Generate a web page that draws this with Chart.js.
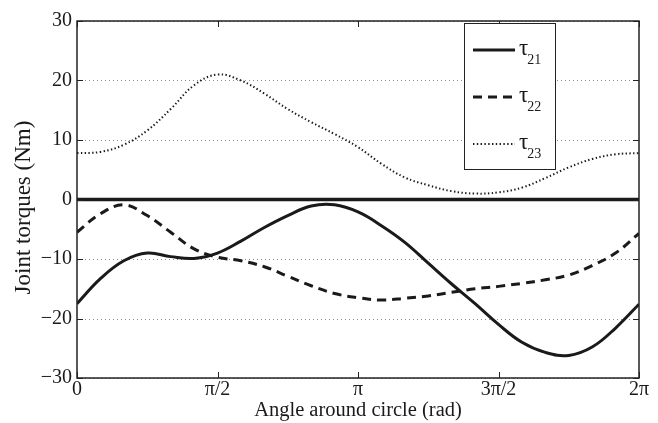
<!DOCTYPE html>
<html>
<head>
<meta charset="utf-8">
<script src="https://cdn.jsdelivr.net/npm/chart.js@4"></script>
<style>
  html, body { margin: 0; padding: 0; background: #fff; }
  #wrap { width: 658px; height: 423px; }
</style>
</head>
<body>
<div id="wrap"><canvas id="c" width="658" height="423"></canvas></div>
<script>
// Sample angles around the circle (degrees), converted to radians for the x axis
const angleDeg = [0, 15, 30, 45, 60, 75, 90, 105, 120, 135, 150, 165, 180,
                  195, 210, 225, 240, 255, 270, 285, 300, 315, 330, 345, 360];

// Joint torques (Nm)
const tau21 = [-17.5, -13.3, -10.3, -9.0, -9.6, -9.9, -9.0, -7.0, -4.7, -2.7, -1.1, -0.9, -2.1,
               -4.4, -7.2, -10.7, -14.2, -17.5, -21.0, -24.0, -25.7, -26.2, -24.8, -21.6, -17.6];
const tau22 = [-5.5, -2.4, -0.9, -2.7, -5.5, -8.3, -9.7, -10.3, -11.3, -12.9, -14.5, -15.8, -16.5,
               -16.9, -16.6, -16.2, -15.6, -15.0, -14.6, -14.1, -13.5, -12.7, -11.1, -9.0, -5.7];
const tau23 = [7.8, 8.0, 9.2, 11.6, 15.2, 19.2, 21.0, 20.0, 17.8, 15.2, 13.0, 11.0, 8.8,
               6.0, 3.7, 2.4, 1.4, 1.0, 1.2, 2.0, 3.6, 5.4, 6.8, 7.6, 7.8];

// Reference torque held at zero over the full circle
const zeroDeg = [0, 360];
const zeroTau = [0, 0];

// Axis ticks
const xTickDeg = [0, 90, 180, 270, 360];
const xTickLabels = ['0', 'π/2', 'π', '3π/2', '2π'];
const yTickValues = [-30, -20, -10, 0, 10, 20, 30];

// Legend entries: base symbol and subscript
const legendNames = ['τ', 'τ', 'τ'];
const legendSubs = ['21', '22', '23'];

const yTitle = 'Joint torques (Nm)';
const xTitle = 'Angle around circle (rad)';

const toRad = d => d * Math.PI / 180;
const pts = (xs, ys) => xs.map((d, i) => ({ x: toRad(d), y: ys[i] }));

const SERIF = "'Liberation Serif', 'Times New Roman', serif";
const INK = '#1a1a1a';

const styles = [
  { borderWidth: 3, borderDash: [] },
  { borderWidth: 3, borderDash: [9, 6] },
  { borderWidth: 2, borderDash: [1.4, 2.4] }
];

// Dotted grid, box frame, inward ticks, y title and the boxed legend
const framePlugin = {
  id: 'frame',
  beforeDatasetsDraw(chart) {
    const { ctx, chartArea: a, scales } = chart;
    ctx.save();
    ctx.strokeStyle = '#8a8a8a';
    ctx.lineWidth = 1;
    ctx.setLineDash([1, 3]);
    yTickValues.forEach(v => {
      const y = Math.round(scales.y.getPixelForValue(v)) + 0.5;
      ctx.beginPath();
      ctx.moveTo(a.left, y);
      ctx.lineTo(a.right, y);
      ctx.stroke();
    });
    ctx.restore();
  },
  afterDatasetsDraw(chart) {
    const { ctx, chartArea: a, scales } = chart;
    ctx.save();
    ctx.strokeStyle = '#222';
    ctx.lineWidth = 1.5;
    ctx.setLineDash([]);
    ctx.strokeRect(a.left, a.top, a.right - a.left, a.bottom - a.top);
    const tl = 6;
    ctx.lineWidth = 1;
    ctx.beginPath();
    yTickValues.forEach(v => {
      const y = Math.round(scales.y.getPixelForValue(v)) + 0.5;
      ctx.moveTo(a.left, y); ctx.lineTo(a.left + tl, y);
      ctx.moveTo(a.right, y); ctx.lineTo(a.right - tl, y);
    });
    xTickDeg.forEach(d => {
      const x = Math.round(scales.x.getPixelForValue(toRad(d))) + 0.5;
      ctx.moveTo(x, a.top); ctx.lineTo(x, a.top + tl);
      ctx.moveTo(x, a.bottom); ctx.lineTo(x, a.bottom - tl);
    });
    ctx.stroke();

    // y axis title, rotated
    ctx.save();
    ctx.translate(24, (a.top + a.bottom) / 2 + 8);
    ctx.rotate(-Math.PI / 2);
    ctx.fillStyle = INK;
    ctx.font = '23px ' + SERIF;
    ctx.textAlign = 'center';
    ctx.textBaseline = 'middle';
    ctx.fillText(yTitle, 0, 0);
    ctx.restore();

    // legend box
    const bx = a.right - 175, by = a.top + 2, bw = 91, bh = 146;
    ctx.fillStyle = '#fff';
    ctx.fillRect(bx, by, bw, bh);
    ctx.strokeStyle = '#222';
    ctx.lineWidth = 1;
    ctx.strokeRect(bx + 0.5, by + 0.5, bw, bh);
    const rows = [27, 74, 121];
    rows.forEach((ry, i) => {
      const y = by + ry;
      ctx.save();
      ctx.strokeStyle = INK;
      ctx.lineWidth = styles[i].borderWidth;
      ctx.setLineDash(styles[i].borderDash);
      ctx.beginPath();
      ctx.moveTo(bx + 9, y);
      ctx.lineTo(bx + 51, y);
      ctx.stroke();
      ctx.restore();
      ctx.fillStyle = INK;
      ctx.textBaseline = 'alphabetic';
      ctx.textAlign = 'left';
      ctx.font = '23px ' + SERIF;
      const tx = bx + 55;
      ctx.fillText(legendNames[i], tx, y + 5);
      const w = ctx.measureText(legendNames[i]).width;
      ctx.font = '14px ' + SERIF;
      ctx.fillText(legendSubs[i], tx + w - 1, y + 14);
    });
    ctx.restore();
  }
};

const series = [tau21, tau22, tau23];
const datasets = series.map((s, i) => ({
  label: legendNames[i] + legendSubs[i],
  data: pts(angleDeg, s),
  borderColor: INK,
  borderWidth: styles[i].borderWidth,
  borderDash: styles[i].borderDash,
  pointRadius: 0,
  tension: 0.4,
  fill: false
}));
datasets.unshift({
  label: 'zero',
  data: pts(zeroDeg, zeroTau),
  borderColor: INK,
  borderWidth: 3.5,
  pointRadius: 0,
  fill: false
});

new Chart(document.getElementById('c'), {
  type: 'line',
  data: { datasets },
  options: {
    responsive: false,
    animation: false,
    devicePixelRatio: 1,
    layout: { padding: { top: 21, right: 19, left: 0, bottom: 0 } },
    plugins: { legend: { display: false }, tooltip: { enabled: false } },
    scales: {
      x: {
        type: 'linear',
        min: 0,
        max: 2 * Math.PI,
        afterBuildTicks(scale) {
          scale.ticks = xTickDeg.map(d => ({ value: toRad(d) }));
        },
        afterFit(scale) { scale.height = 45; },
        grid: { display: false, drawTicks: false, tickLength: 0 },
        border: { display: false },
        ticks: {
          autoSkip: false,
          maxRotation: 0,
          padding: 0,
          color: INK,
          font: { family: SERIF, size: 20 },
          callback: (v, i) => xTickLabels[i]
        },
        title: {
          display: true,
          text: xTitle,
          color: INK,
          font: { family: SERIF, size: 20.5 },
          padding: { top: 0, bottom: 0 }
        }
      },
      y: {
        min: -30,
        max: 30,
        afterBuildTicks(scale) {
          scale.ticks = yTickValues.map(v => ({ value: v }));
        },
        afterFit(scale) { scale.width = 77; },
        grid: { display: false, drawTicks: false, tickLength: 0 },
        border: { display: false },
        ticks: {
          padding: 5,
          color: INK,
          font: { family: SERIF, size: 20 },
          callback: v => (v < 0 ? '\u2212' + Math.abs(v) : String(v))
        }
      }
    }
  },
  plugins: [framePlugin]
});
</script>
</body>
</html>
